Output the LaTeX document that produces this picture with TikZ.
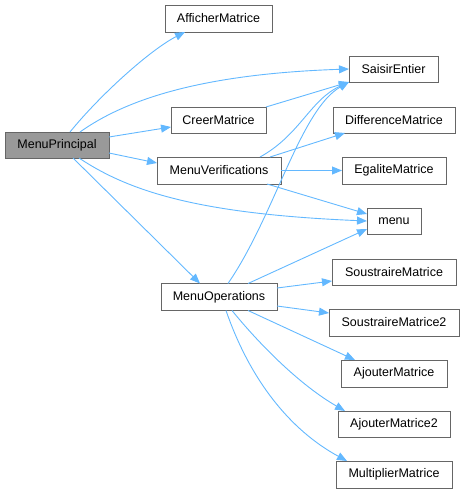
\documentclass[tikz,border=0pt]{standalone}
\usepackage{fontspec}
\setmainfont{Liberation Sans}
\usetikzlibrary{arrows.meta}
\definecolor{edgeblue}{HTML}{63B8FF}
\definecolor{boxgray}{HTML}{666666}
\definecolor{rootfill}{HTML}{999999}
\tikzset{
  fn/.style={draw=boxgray, line width=1pt, fill=white, inner sep=0pt, outer sep=0pt,
    font=\fontsize{12.5}{14}\selectfont, text=black},
  rootfn/.style={fn, fill=rootfill},
  call/.style={draw=edgeblue, line width=0.9pt, -{Triangle[length=10pt,width=8pt]}}
}
\begin{document}
\begin{tikzpicture}[x=1pt,y=-1pt]
\useasboundingbox (0,0) rectangle (465,493);
\node[rootfn, minimum width=104pt, minimum height=26pt] (MP) at (57,145) {MenuPrincipal};
\node[fn, minimum width=107pt, minimum height=27pt] (AM) at (218.5,18.5) {AfficherMatrice};
\node[fn, minimum width=89pt, minimum height=26pt] (SE) at (393.5,69) {SaisirEntier};
\node[fn, minimum width=95pt, minimum height=26pt] (CM) at (218.5,120) {CreerMatrice};
\node[fn, minimum width=122pt, minimum height=26pt] (DM) at (394,120) {DifferenceMatrice};
\node[fn, minimum width=124pt, minimum height=27pt] (MV) at (219,170.5) {MenuVerifications};
\node[fn, minimum width=104pt, minimum height=27pt] (EM) at (394,170.5) {EgaliteMatrice};
\node[fn, minimum width=54pt, minimum height=26pt] (ME) at (394,221) {menu};
\node[fn, minimum width=116pt, minimum height=27pt] (MO) at (219,297) {MenuOperations};
\node[fn, minimum width=124pt, minimum height=26pt] (SM) at (394,272) {SoustraireMatrice};
\node[fn, minimum width=130pt, minimum height=27pt] (SMb) at (394,322.5) {SoustraireMatrice2};
\node[fn, minimum width=106pt, minimum height=27pt] (AjM) at (394,373.5) {AjouterMatrice};
\node[fn, minimum width=112pt, minimum height=26pt] (AjMb) at (394,424) {AjouterMatrice2};
\node[fn, minimum width=116pt, minimum height=27pt] (MuM) at (394,474.5) {MultiplierMatrice};

% MenuPrincipal calls
\draw[call] ([xshift=13pt]MP.north) .. controls (100,95) and (150,50) .. ([xshift=-33.5pt]AM.south);
\draw[call] ([xshift=23pt]MP.north) .. controls (125,100) and (200,74) .. (SE.west);
\draw[call] ([yshift=8pt]MP.east) -- ([yshift=-7pt]CM.west);
\draw[call] ([yshift=-8pt]MP.east) -- ([yshift=7.5pt]MV.west);
\draw[call] ([xshift=22pt]MP.south) .. controls (130,192) and (200,214) .. (ME.west);
\draw[call] ([xshift=16pt]MP.south) -- ([xshift=-19pt]MO.north);

% CreerMatrice
\draw[call] (CM.north east) -- (SE.south west);

% MenuVerifications
\draw[call] ([xshift=41pt]MV.north) .. controls (300,135) and (310,100) .. (SE.south west);
\draw[call] ([xshift=51pt]MV.north) -- ([xshift=-49pt]DM.south);
\draw[call] (MV.east) -- (EM.west);
\draw[call] ([xshift=48pt]MV.south) -- ([yshift=7pt]ME.west);

% MenuOperations
\draw[call] ([xshift=9pt]MO.north) .. controls (275,215) and (300,110) .. (SE.south west);
\draw[call] ([xshift=29pt]MO.north) -- ([yshift=-8pt]ME.west);
\draw[call] ([yshift=9pt]MO.east) -- ([yshift=-9pt]SM.west);
\draw[call] ([yshift=-9pt]MO.east) -- ([yshift=9.5pt]SMb.west);
\draw[call] ([xshift=29pt]MO.south) -- ([xshift=-39pt]AjM.north);
\draw[call] ([xshift=13pt]MO.south) .. controls (260,345) and (300,385) .. ([xshift=-49pt]AjMb.north);
\draw[call] ([xshift=7pt]MO.south) .. controls (250,380) and (290,430) .. ([xshift=-47pt]MuM.north);
\end{tikzpicture}
\end{document}
